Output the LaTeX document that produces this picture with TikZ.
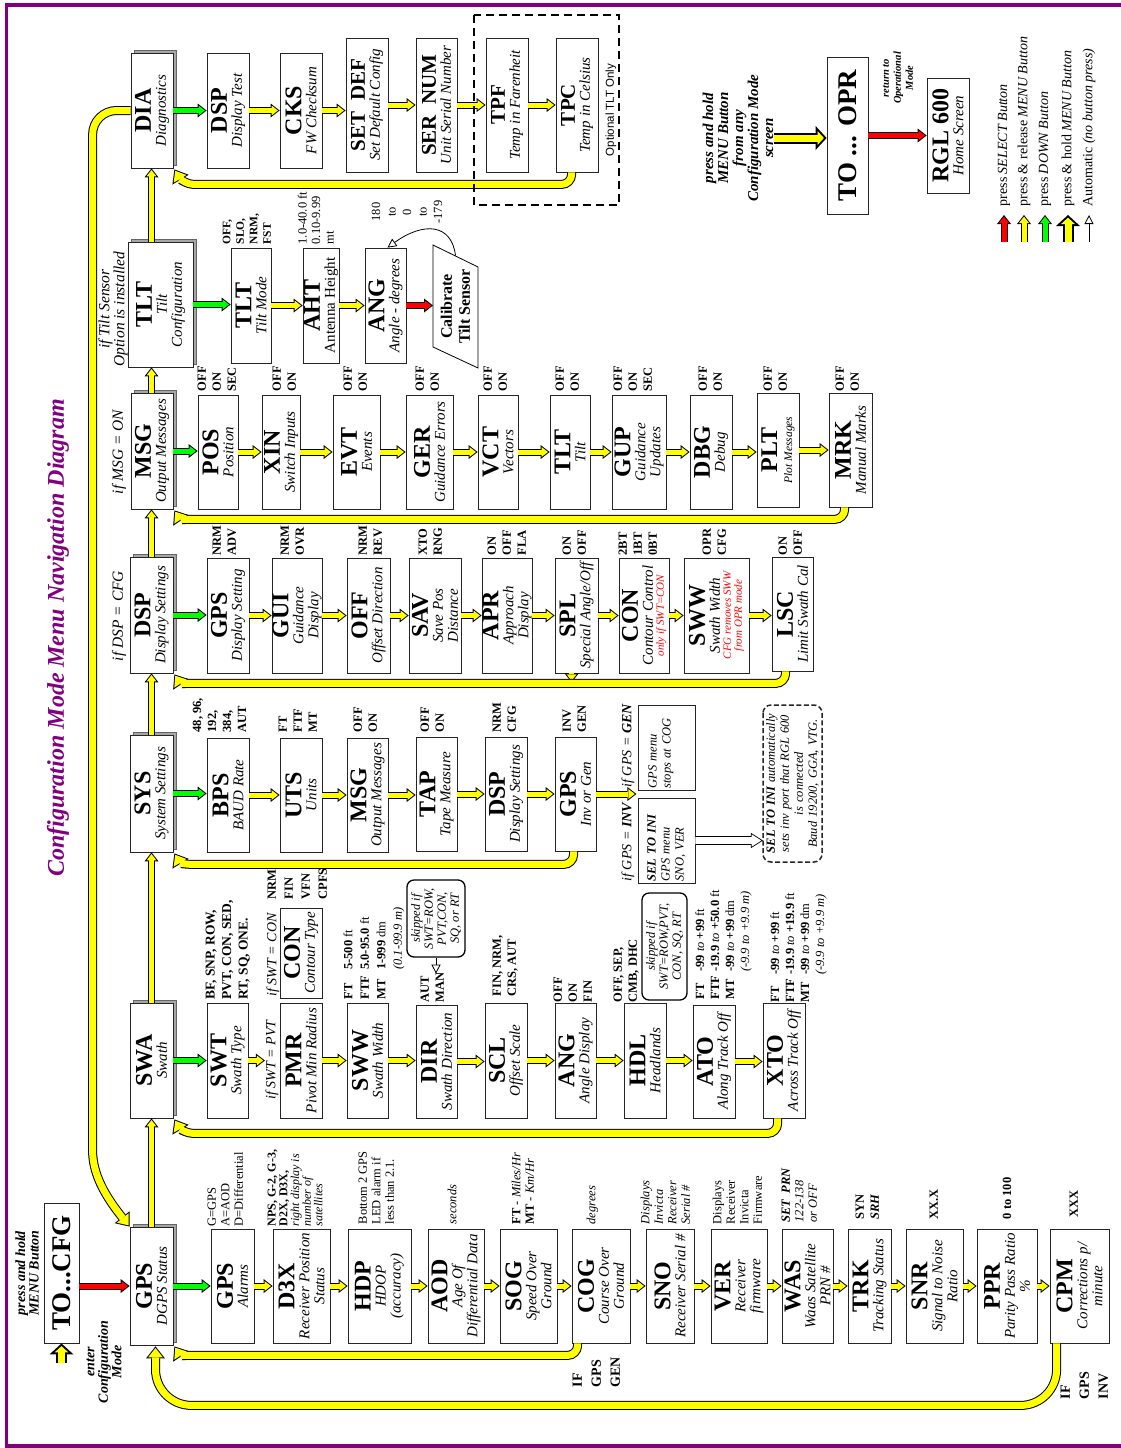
\documentclass[tikz,border=0pt]{standalone}
\usepackage{fontspec}
\setmainfont{Liberation Serif}
\newfontfamily\hvfont{Liberation Sans}
\usetikzlibrary{arrows.meta,calc}
\definecolor{Frame}{HTML}{800080}
\definecolor{Tube}{HTML}{FFFF00}
\definecolor{Down}{HTML}{00FF00}
\definecolor{Sel}{HTML}{FF0000}
\definecolor{Shade}{HTML}{A6A6A6}

\newcommand\mlab[1]{{\bfseries\fontsize{24}{24}\selectfont #1}}
\newcommand\mlabs[1]{{\bfseries\fontsize{21}{21}\selectfont #1}}
\newcommand\mlabl[1]{{\bfseries\fontsize{27}{27}\selectfont #1}}
\newcommand\mdesc[1]{{\itshape #1}}
\newcommand\mdescs[1]{{\itshape\fontsize{11.5}{12}\selectfont #1}}
\newcommand\mwarn[1]{{\itshape\fontsize{11}{11}\selectfont\color{Sel}#1}}
\newcommand\rg[1]{\textmd{#1}}
\newcommand\ti[1]{\textmd{\textit{#1}}}

% block arrows: black outline first, colour on top
\newcommand\barr[2]{%
  \draw[line width=7pt,-{Triangle[length=9pt,width=14pt,line width=0pt]}] #2;
  \draw[#1,line width=5pt,shorten >=1.6pt,-{Triangle[length=6.4pt,width=9.9pt,line width=0pt]}] #2;}
\newcommand\pipe[1]{%
  \draw[line width=9pt,-{Triangle[length=12pt,width=19pt,line width=0pt]}] #1;
  \draw[Tube,line width=7pt,shorten >=1.6pt,-{Triangle[length=9.4pt,width=14.9pt,line width=0pt]}] #1;}
\newcommand\harr[1]{%
  \draw[line width=11pt,-{Triangle[length=11pt,width=24pt,line width=0pt]}] #1;
  \draw[Tube,line width=7pt,shorten >=2.7pt,-{Triangle[length=6.3pt,width=13.7pt,line width=0pt]}] #1;}

\begin{document}
\begin{tikzpicture}[x=1pt,y=-1pt,
  cbox/.style={draw=black!85,fill=white,line width=0.8pt,rotate=90,inner sep=0pt,align=center,font={\fontsize{15}{15}\selectfont}},
  pbox/.style={cbox,preaction={fill=Shade,draw=black!60,line width=0.4pt,transform canvas={xshift=3pt,yshift=3pt}}},
  val/.style={rotate=90,anchor=north west,inner sep=0.5pt,align=left,font={\bfseries\fontsize{12.5}{15}\selectfont}},
  note/.style={val,font={\fontsize{12.5}{13.5}\selectfont}},
  cond/.style={rotate=90,inner sep=0.5pt,align=center,font={\itshape\fontsize{15.5}{14}\selectfont}},
  hold/.style={rotate=90,inner sep=0.5pt,align=center,font={\bfseries\itshape\fontsize{14}{13.5}\selectfont}},
  lgd/.style={rotate=90,anchor=west,inner sep=0.5pt,font={\fontsize{14}{14}\selectfont}},
  skipbox/.style={draw,rounded corners=7pt,line width=1.3pt,fill=white,rotate=90,inner sep=1pt,align=center,font={\itshape\fontsize{12.5}{13}\selectfont}},
  gbox/.style={draw=black!85,line width=0.8pt,fill=white,rotate=90,inner sep=1.5pt,align=left,font={\itshape\fontsize{12.5}{14}\selectfont}},
  autoarr/.style={line width=0.8pt,-{Triangle[open,length=9pt,width=9pt]}}]
\useasboundingbox (0,0) rectangle (1120,1448);

% title and entry
\node[rotate=90,text=Frame,font={\bfseries\itshape\fontsize{24}{24}\selectfont}] (ttl) at (58,638) {Configuration Mode Menu Navigation Diagram};
\node[cbox,minimum width=140,minimum height=35] (cfg) at (61.5,1273) {\mlabl{TO...CFG}};
\node[hold] (cfgtxt) at (27,1273) {press and hold\\MENU Button};
\node[hold] (entertxt) at (104,1362) {enter\\Configuration\\Mode};

% top level menus
\foreach \n/\xa/\xb/\ya/\yb/\txt in {
  gps/130/173/1227/1345/{\mlab{GPS}\\\mdesc{DGPS Status}},
  swa/130/173/1003/1118/{\mlab{SWA}\\\mdesc{Swath}},
  sys/130/173/735/852/{\mlab{SYS}\\\mdesc{System Settings}},
  dsp/130/173/557/673/{\mlab{DSP}\\\mdesc{Display Settings}},
  msg/131/173/393/509/{\mlab{MSG}\\\mdesc{Output Messages}},
  tlt/128/193/242/367/{\mlab{TLT}\\\mdesc{Tilt}\\\mdesc{Configuration}},
  dia/131/173/53/168/{\mlab{DIA}\\\mdesc{Diagnostics}}}
  \node[pbox,minimum width={\yb-\ya},minimum height={\xb-\xa}] (\n) at ({(\xa+\xb)/2},{(\ya+\yb)/2}) {\txt};

% sub menus
\foreach \n/\xa/\xb/\ya/\yb/\txt in {
  d1/207/249/53/168/{\mlab{DSP}\\\mdesc{Display Test}},
  d2/280/322/53/168/{\mlab{CKS}\\\mdesc{FW Checksum}},
  d3/346/388/38/172/{\mlabs{SET\enspace DEF}\\\mdesc{Set Default Config}},
  d4/416/457/38/172/{\mlabs{SER\enspace NUM}\\\mdesc{Unit Serial Number}},
  d5/486/528/38/172/{\mlabs{TPF}\\\mdesc{Temp in Farenheit}},
  d6/556/598/38/172/{\mlabs{TPC}\\\mdesc{Temp in Celsius}},
  t1/231/271/248/363/{\mlab{TLT}\\\mdesc{Tilt Mode}},
  t2/303/339/248/363/{\mlab{AHT}\\Antenna Height},
  t3/365/406/248/363/{\mlab{ANG}\\\mdesc{Angle - degrees}},
  m1/198/238/395/509/{\mlab{POS}\\\mdesc{Position}},
  m2/262/300/395/509/{\mlab{XIN}\\\mdesc{Switch Inputs}},
  m3/333/380/395/509/{\mlab{EVT}\\\mdesc{Events}},
  m4/406/453/395/509/{\mlab{GER}\\\mdesc{Guidance Errors}},
  m5/478/518/395/509/{\mlab{VCT}\\\mdesc{Vectors}},
  m6/550/590/395/509/{\mlab{TLT}\\\mdesc{Tilt}},
  m7/612/666/395/509/{\mlab{GUP}\\\mdesc{Guidance}\\\mdesc{Updates}},
  m8/690/732/395/509/{\mlab{DBG}\\\mdesc{Debug}},
  m9/757/799/393/507/{\mlab{PLT}\\\mdescs{Plot Messages}},
  m10/829/872/393/507/{\mlab{MRK}\\\mdesc{Manual Marks}},
  s1/207/249/558/673/{\mlab{GPS}\\\mdesc{Display Setting}},
  s2/272/322/558/673/{\mlab{GUI}\\\mdesc{Guidance}\\\mdesc{Display}},
  s3/347/390/558/673/{\mlab{OFF}\\\mdesc{Offset Direction}},
  s4/409/461/558/673/{\mlab{SAV}\\\mdesc{Save Pos}\\\mdesc{Distance}},
  s5/482/532/558/673/{\mlab{APR}\\\mdesc{Approach}\\\mdesc{Display}},
  s6/555/598/558/673/{\mlab{SPL}\\\mdesc{Special Angle/Off}},
  s7/619/669/558/673/{\mlab{CON}\\\mdesc{Contour Control}\\[-4pt]\mwarn{only if SWT=CON}},
  s8/684/749/558/673/{\mlab{SWW}\\\mdesc{Swath Width}\\[-4pt]\mwarn{CFG removes SWW}\\[-4pt]\mwarn{from OPR mode}},
  s9/772/813/557/671/{\mlab{LSC}\\\mdesc{Limit Swath Cal}},
  y1/207/249/738/852/{\mlab{BPS}\\\mdesc{BAUD Rate}},
  y2/280/322/738/852/{\mlab{UTS}\\\mdesc{Units}},
  y3/347/388/738/852/{\mlab{MSG}\\\mdesc{Output Messages}},
  y4/416/457/737/851/{\mlab{TAP}\\\mdesc{Tape Measure}},
  y5/485/527/737/851/{\mlab{DSP}\\\mdesc{Display Settings}},
  y6/555/596/737/851/{\mlab{GPS}\\\mdesc{Inv or Gen}},
  w1/207/248/1003/1118/{\mlab{SWT}\\\mdesc{Swath Type}},
  w2/280/322/1003/1118/{\mlab{PMR}\\\mdesc{Pivot Min Radius}},
  wc/280/322/908/998/{\mlab{CON}\\\mdesc{Contour Type}},
  w3/347/388/1003/1118/{\mlab{SWW}\\\mdesc{Swath Width}},
  w4/416/457/1005/1118/{\mlab{DIR}\\\mdesc{Swath Direction}},
  w5/485/527/1003/1118/{\mlab{SCL}\\\mdesc{Offset Scale}},
  w6/555/596/1003/1118/{\mlab{ANG}\\\mdesc{Angle Display}},
  w7/624/666/1003/1118/{\mlab{HDL}\\\mdesc{Headlands}},
  w8/693/735/1005/1118/{\mlab{ATO}\\\mdesc{Along Track Off}},
  w9/763/805/1003/1118/{\mlab{XTO}\\\mdesc{Across Track Off}},
  g1/211/254/1229/1343/{\mlab{GPS}\\\mdesc{Alarms}},
  g2/273/330/1229/1343/{\mlab{D3X}\\\mdesc{Receiver Position}\\\mdesc{Status}},
  g3/348/411/1229/1343/{\mlab{HDP}\\\mdesc{HDOP}\\\mdesc{(accuracy)}},
  g4/428/484/1229/1343/{\mlab{AOD}\\\mdesc{Age Of}\\\mdesc{Differential Data}},
  g5/500/557/1229/1343/{\mlab{SOG}\\\mdesc{Speed Over}\\\mdesc{Ground}},
  g6/572/630/1229/1343/{\mlab{COG}\\\mdesc{Course Over}\\\mdesc{Ground}},
  g7/646/694/1229/1343/{\mlab{SNO}\\\mdesc{Receiver Serial \#}},
  g8/711/767/1229/1343/{\mlab{VER}\\\mdesc{Receiver}\\\mdesc{firmware}},
  g9/782/833/1229/1343/{\mlab{WAS}\\\mdesc{Waas Satellite}\\\mdesc{PRN \#}},
  g10/848/891/1229/1343/{\mlab{TRK}\\\mdesc{Tracking Status}},
  g11/906/963/1229/1343/{\mlab{SNR}\\\mdesc{Signal to Noise}\\\mdesc{Ratio}},
  g12/977/1037/1229/1343/{\mlab{PPR}\\\mdesc{Parity Pass Ratio}\\\mdesc{\%}},
  g13/1050/1109/1229/1343/{\mlab{CPM}\\\mdesc{Corrections p/}\\\mdesc{minute}}}
  \node[cbox,minimum width={\yb-\ya},minimum height={\xb-\xa}] (\n) at ({(\xa+\xb)/2},{(\ya+\yb)/2}) {\txt};

% conditions
\node[cond] (iftlt) at (113,309) {if Tilt Sensor\\Option is installed};
\node[cond] (ifmsg) at (119,452) {if MSG = ON};
\node[cond] (ifdsp) at (119,616) {if DSP = CFG};

% tilt row
\node[val,font={\bfseries\fontsize{11.5}{13.5}\selectfont}] at (222,245) {OFF,\\SLO,\\NRM,\\FST};
\node[note] at (297,245) {1.0-40.0 ft\\0.10-9.99\\mt};
\node[rotate=90,align=center,inner sep=0.5pt,font={\fontsize{12.5}{15.5}\selectfont}] (angv) at (407,212) {180\\to\\0\\to\\-179};
\node[rotate=90,align=center,font={\bfseries\fontsize{16}{18}\selectfont}] (cal) at (455.5,306.5) {Calibrate\\Tilt Sensor};
\draw[line width=0.8pt] ($(cal)+(-22.5,-61.5)$) -- ($(cal)+(22.5,-39.5)$) -- ($(cal)+(22.5,61.5)$) -- ($(cal)+(-22.5,40.5)$) -- cycle;
\coordinate (calL) at ($(cal)+(-22.5,0)$);

% option values
\foreach \x/\txt in {197/{OFF\\ON\\SEC},272/{OFF\\ON},343/{OFF\\ON},415/{OFF\\ON},483/{OFF\\ON},
  555/{OFF\\ON},613/{OFF\\ON\\SEC},698/{OFF\\ON},763/{OFF\\ON},835/{OFF\\ON}}
  \node[val] at (\x,392) {\txt};
\foreach \x/\txt in {212/{NRM\\ADV},280/{NRM\\OVR},358/{NRM\\REV},418/{XTO\\RNG},487/{ON\\OFF\\FLA},
  562/{ON\\OFF},618/{2BT\\1BT\\0BT},702/{OPR\\CFG},778/{ON\\OFF}}
  \node[val] at (\x,556) {\txt};
\foreach \x/\txt in {192/{48, 96,\\192,\\384,\\AUT},278/{FT\\FTF\\MT},353/{OFF\\ON},420/{OFF\\ON},
  492/{NRM\\CFG},562/{INV\\GEN}}
  \node[val] at (\x,733) {\txt};

% swath row
\node[val,font={\bfseries\fontsize{13.5}{16.5}\selectfont}] at (205,1000) {BF, SNP, ROW,\\PVT, CON, SED,\\RT, SQ, ONE.};
\node[cond,font={\itshape\fontsize{14}{14}\selectfont}] (ifpvt) at (272,1060) {if SWT = PVT};
\node[cond,font={\itshape\fontsize{14}{14}\selectfont}] (ifcon) at (273,955) {if SWT = CON};
\node[val,font={\bfseries\fontsize{12.5}{17}\selectfont}] at (267,900) {NRM\\FIN\\VFN\\CPFS};
\node[val,font={\bfseries\fontsize{12.5}{16.5}\selectfont}] at (340,1000) {\begin{tabular}{@{}l@{\hspace{6pt}}l@{}}FT & 5-500 \rg{ft}\\FTF & 5.0-95.0 \rg{ft}\\MT & 1-999 \rg{dm}\\ & \ti{(0.1-99.9 m)}\end{tabular}};
\node[val] at (420,1003) {AUT\\MAN};
\node[val] at (492,997) {FIN, NRM,\\CRS, AUT};
\node[val] at (553,1003) {OFF\\ON\\FIN};
\node[val] at (613,1003) {OFF, SEP,\\CMB, DHC};
\node[val] at (693,1000) {\begin{tabular}{@{}l@{\hspace{4pt}}l@{}}FT & -99 \ti{to} +99 \rg{ft}\\FTF & -19.9 \ti{to} +50.0 \rg{ft}\\MT & -99 \ti{to} +99 \rg{dm}\\ & \ti{(-9.9 to +9.9 m)}\end{tabular}};
\node[val] at (768,1003) {\begin{tabular}{@{}l@{\hspace{4pt}}l@{}}FT & -99 \ti{to} +99 \rg{ft}\\FTF & -19.9 \ti{to} +19.9 \rg{ft}\\MT & -99 \ti{to} +99 \rg{dm}\\ & \ti{(-9.9 to +9.9 m)}\end{tabular}};
\node[skipbox,minimum width=77,minimum height=58] (skip1) at (436,918.5) {skipped if\\SWT=ROW,\\PVT,CON,\\SQ, or RT};
\node[skipbox,minimum width=107,minimum height=45] (skip2) at (664.5,946.5) {skipped if\\SWT=ROW,PVT,\\CON, SQ, RT};

% gps row
\node[note] at (207,1227) {G=GPS\\A=AOD\\D=Differential};
\node[note,font={\fontsize{12}{11.7}\selectfont}] at (267,1227) {\textbf{NPS, G-2, G-3,}\\\textbf{D2X, D3X,}\\\textit{right display is}\\\textit{number of}\\\textit{satellites}};
\node[note] at (358,1225) {Bottom 2 GPS\\LED alarm if\\less than 2.1.};
\node[note] at (447,1225) {\textit{seconds}};
\node[note] at (511,1225) {\textbf{FT} - \textit{Miles/Hr}\\\textbf{MT} - \textit{Km/Hr}};
\node[note] at (586,1225) {\textit{degrees}};
\node[note] at (640,1225) {\textit{Displays}\\\textit{Invicta}\\\textit{Receiver}\\\textit{Serial \#}};
\node[note] at (712,1225) {Displays\\Receiver\\Invicta\\Firmware};
\node[note] at (781,1223) {\textbf{\textit{SET\enspace PRN}}\\\textit{122-138}\\\textit{or OFF}};
\node[val] at (855,1220) {SYN\\\textit{SRH}};
\node[val] at (929,1220) {XX.X};
\node[val] at (1002,1220) {0 to 100};
\node[val] at (1069,1218) {XXX};
\node[val,font={\bfseries\fontsize{14}{19}\selectfont}] (ifgen2) at (572,1388) {IF\\GPS\\GEN};
\node[val,font={\bfseries\fontsize{14}{19}\selectfont}] (ifinv2) at (1060,1400) {IF\\GPS\\INV};

% gps inv/gen branch
\node[cond,anchor=west,font={\itshape\fontsize{14}{14}\selectfont}] (ifgen) at (628,788) {if GPS = \textbf{GEN}};
\node[cond,anchor=west,font={\itshape\fontsize{14}{14}\selectfont}] (ifinv) at (628,882) {if GPS = \textbf{INV}};
\node[gbox,minimum width=85,minimum height=57,text width=82] (genb) at (666.5,747.5) {GPS menu\\stops at COG\\\mbox{}};
\node[gbox,minimum width=85,minimum height=57,text width=82] (inib) at (666.5,840.5) {\textbf{SEL TO INI}\\GPS menu\\SNO, VER};
\node[gbox,align=center,rounded corners=8pt,line width=1.5pt,dash pattern=on 5pt off 2.5pt,minimum width=157,minimum height=59,text width=150] (autob) at (792.5,783.5) {\textbf{SEL TO INI} automatically\\sets inv port that RGL 600\\is connected\\Baud 19200, GGA, VTG.};
\coordinate (h1) at (inib.south);
\coordinate (h2) at (inib.south -| autob.north);
\draw[fill=white,line width=0.7pt] ($(h1)+(0,-4)$) -- ($(h2)+(-11,-4)$) -- ($(h2)+(-11,-7)$) -- (h2) -- ($(h2)+(-11,7)$) -- ($(h2)+(-11,4)$) -- ($(h1)+(0,4)$);

% exit side
\node[hold,font={\bfseries\itshape\fontsize{15}{15}\selectfont}] (holdtxt) at (738,138) {press and hold\\MENU Button\\from any\\Configuration Mode\\screen};
\node[cbox,minimum width=157,minimum height=41] (opr) at (847.5,135.5) {\mlabl{TO ... OPR}};
\node[hold,font={\bfseries\itshape\fontsize{10.5}{12}\selectfont}] (rettxt) at (898,78) {return to\\Operational\\Mode};
\node[cbox,minimum width=115,minimum height=42] (rgl) at (948,135.5) {\mlab{RGL 600}\\\mdesc{Home Screen}};

% legend
\node[lgd] (l1) at (1004,207) {press \textit{SELECT Button}};
\node[lgd] (l2) at (1024,207) {press \& release \textit{MENU Button}};
\node[lgd] (l3) at (1045,207) {press \textit{DOWN Button}};
\node[lgd] (l4) at (1068,207) {press \& hold \textit{MENU Button}};
\node[lgd] (l5) at (1089,207) {Automatic \textit{(no button press)}};

% arrows between menus
\foreach \ua/\ub in {gps/swa,swa/sys,sys/dsp,dsp/msg,msg/tlt,tlt/dia}
  {\barr{Tube}{(\ua.east -| gps.east) -- (\ub.west -| gps.east)}}
\foreach \ua/\ub in {dia/d1,tlt/t1,msg/m1,dsp/s1,sys/y1,swa/w1,gps/g1}
  {\barr{Down}{(\ua.south) -- (\ua.south -| \ub.north)}}
\foreach \ua/\ub in {d1/d2,d2/d3,d3/d4,d4/d5,d5/d6,t1/t2,t2/t3,
  m1/m2,m2/m3,m3/m4,m4/m5,m5/m6,m6/m7,m7/m8,m8/m9,m9/m10,
  s1/s2,s2/s3,s3/s4,s4/s5,s5/s6,s6/s7,s7/s8,s8/s9,
  y1/y2,y2/y3,y3/y4,y4/y5,y5/y6,
  w2/w3,w3/w4,w4/w5,w5/w6,w6/w7,w7/w8,w8/w9,
  g1/g2,g2/g3,g3/g4,g4/g5,g5/g6,g6/g7,g7/g8,g8/g9,g9/g10,g10/g11,g11/g12,g12/g13}
  {\barr{Tube}{(\ua.south) -- (\ua.south -| \ub.north)}}
\barr{Tube}{(w1.south) -- (w1.south -| ifpvt.north)}
\barr{Tube}{(y6.south) -- ($(y6.south)+(40,0)$)}
\barr{Sel}{(gps.north -| cfg.south) -- (gps.north)}
\barr{Sel}{(t3.south) -- (t3.south -| calL)}
\barr{Sel}{(opr.south) -- (opr.south -| rgl.north)}
\harr{($(cfg.west)+(0,20)$) -- (cfg.west)}
\harr{(holdtxt.south) -- (holdtxt.south -| opr.north)}
\draw[autoarr] ($(cal)+(0,-51)$) .. controls +(-4,-32) and +(36,-26) .. ($(t3.east)+(2,0)$);
\draw[autoarr] (skip1.west) -- ++(0,16);
\barr{Sel}{($(l1.west)+(0,35)$) -- ($(l1.west)+(0,8)$)}
\barr{Tube}{($(l2.west)+(0,35)$) -- ($(l2.west)+(0,8)$)}
\barr{Down}{($(l3.west)+(0,35)$) -- ($(l3.west)+(0,8)$)}
\harr{($(l4.west)+(0,35)$) -- ($(l4.west)+(0,8)$)}
\draw[autoarr] ($(l5.west)+(0,35)$) -- ($(l5.west)+(0,8)$);
\barr{Tube}{($(s6.north west)+(17,0)$) -- ++(0,9)}

% return pipes
\pipe{(dia.north) [rounded corners=24pt] -| ($(gps.north east)+(-37,-100)$) [sharp corners] .. controls +(0,48) and +(-24,-30) .. (gps.north east)}
\pipe{($(d6.north west)+(16,0)$) [rounded corners=10pt] |- ($(dia.south west)+(30,16)$) [sharp corners] .. controls +(-16,0) and +(6,10) .. ($(dia.south west)+(1,1)$)}
\pipe{($(m10.north west)+(16,0)$) [rounded corners=10pt] |- ($(msg.south west)+(30,10)$) [sharp corners] .. controls +(-16,0) and +(6,9) .. ($(msg.south west)+(1,1)$)}
\pipe{($(s9.north west)+(14,0)$) [rounded corners=10pt] |- ($(dsp.south west)+(30,10)$) [sharp corners] .. controls +(-16,0) and +(6,9) .. ($(dsp.south west)+(1,1)$)}
\pipe{($(y6.north west)+(19,0)$) [rounded corners=10pt] |- ($(sys.south west)+(30,12)$) [sharp corners] .. controls +(-16,0) and +(6,10) .. ($(sys.south west)+(1,1)$)}
\pipe{($(w9.north west)+(15,0)$) [rounded corners=10pt] |- ($(swa.south west)+(30,15)$) [sharp corners] .. controls +(-16,0) and +(6,10) .. ($(swa.south west)+(1,1)$)}
\pipe{($(g6.north west)+(6,0)$) [rounded corners=10pt] |- ($(gps.south west)+(30,10)$) [sharp corners] .. controls +(-16,0) and +(6,9) .. ($(gps.south west)+(1,1)$)}
\pipe{($(g13.north west)+(7,0)$) [rounded corners=36pt] |- ($(gps.west)+(4,60)$) -- ($(gps.west)+(4,1)$)}

% optional tilt group and frame
\node[rotate=90,font={\hvfont\fontsize{11.5}{12}\selectfont}] (opt) at (611,110) {Optional TLT Only};
\draw[line width=1.6pt,dash pattern=on 8pt off 5pt] (474,15) rectangle (619,205);
\draw[Frame,line width=3.5pt] (6.5,5) rectangle (1126,1446);
\end{tikzpicture}
\end{document}
